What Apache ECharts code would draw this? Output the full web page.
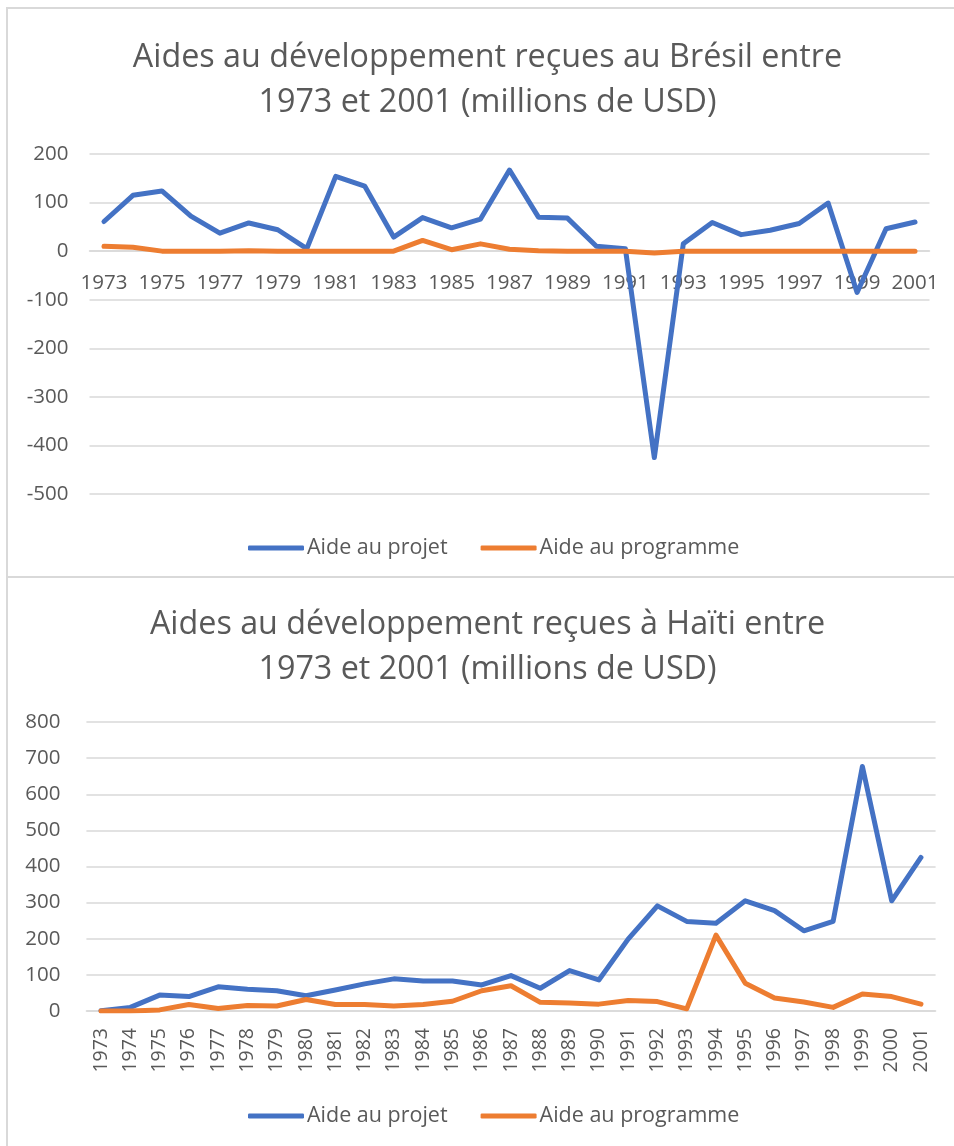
<!DOCTYPE html>
<html>
<head>
    <meta charset="utf-8">
    <title>Aides au développement</title>
    <script src="https://cdn.jsdelivr.net/npm/echarts@6/dist/echarts.min.js"></script>
    <style>
        body { margin: 0; background: #fff; }
    </style>
</head>
<body>
    <div id="main" style="width:954px;height:1146px;"></div>
    <script type="text/javascript">
var years = ['1973','1974','1975','1976','1977','1978','1979','1980','1981','1982','1983','1984','1985','1986','1987',
             '1988','1989','1990','1991','1992','1993','1994','1995','1996','1997','1998','1999','2000','2001'];

// Brésil
var bresilProjet = [61,115,124,72,37,58,44,5,154,134,29,69,48,66,167,70,68,10,5,-425,15,59,34,43,57,99,-85,46,60];
var bresilProgramme = [10,8,0,0,0,1,0,0,0,0,0,22,3,15,4,1,0,0,0,-4,0,0,0,0,0,0,0,0,0];

// Haïti
var haitiProjet = [1,10,44,40,67,60,56,42,58,75,89,83,83,72,98,63,112,86,199,291,248,243,305,278,222,248,677,305,425];
var haitiProgramme = [0,0,3,18,7,15,14,32,18,18,14,18,27,56,70,24,22,19,29,26,6,210,77,36,25,10,47,40,19];

var txt = '#595959';
var grille = '#d9d9d9';
var police = 'Open Sans';

function serie(nom, data, couleur, idx) {
    return {
        name: nom,
        type: 'line',
        xAxisIndex: idx,
        yAxisIndex: idx,
        data: data,
        symbol: 'none',
        lineStyle: { width: 5, color: couleur, cap: 'round', join: 'round' },
        itemStyle: { color: couleur }
    };
}

function titre(texte, haut) {
    return {
        text: texte,
        left: 482.5,
        top: haut,
        textAlign: 'center',
        textStyle: { fontFamily: police, fontSize: 32.3, fontWeight: 'normal', color: txt, lineHeight: 45 }
    };
}

function legende(haut) {
    return {
        top: haut,
        left: 243,
        icon: 'roundRect',
        itemWidth: 56,
        itemHeight: 5,
        itemGap: 33,
        data: ['Aide au projet', 'Aide au programme'],
        textStyle: { fontFamily: police, fontSize: 21.5, color: txt, padding: [0, 0, 0, -2] }
    };
}

var myChart = echarts.init(document.getElementById('main'));

option = {
    backgroundColor: '#fff',
    animation: false,
    graphic: [
        { type: 'rect', shape: { x: 7, y: 8, width: 1000, height: 569 }, style: { fill: 'none', stroke: grille, lineWidth: 2 } },
        { type: 'rect', shape: { x: 7, y: 577, width: 1000, height: 600 }, style: { fill: 'none', stroke: grille, lineWidth: 2 } }
    ],
    title: [
        titre('Aides au développement reçues au Brésil entre\n1973 et 2001 (millions de USD)', 30),
        titre('Aides au développement reçues à Haïti entre\n1973 et 2001 (millions de USD)', 597)
    ],
    legend: [legende(532), legende(1100)],
    grid: [
        { left: 89.5, width: 840, top: 154, height: 340 },
        { left: 86.4, width: 849.2, top: 722, height: 289 }
    ],
    xAxis: [
        {
            type: 'category', gridIndex: 0, data: years, boundaryGap: true,
            position: 'bottom', offset: -242.9,
            axisTick: { show: false },
            axisLine: { onZero: false, lineStyle: { color: grille, width: 1.5 } },
            axisLabel: { interval: 1, margin: 22, fontFamily: police, fontSize: 20.5, color: txt }
        },
        {
            type: 'category', gridIndex: 1, data: years, boundaryGap: true,
            axisTick: { show: false },
            axisLine: { onZero: true, lineStyle: { color: grille, width: 1.5 } },
            axisLabel: { interval: 0, rotate: 90, margin: 17, fontFamily: police, fontSize: 19.5, color: txt }
        }
    ],
    yAxis: [
        {
            type: 'value', gridIndex: 0, min: -500, max: 200, interval: 100,
            axisLine: { show: false }, axisTick: { show: false },
            splitLine: { lineStyle: { color: grille, width: 1.5 } },
            axisLabel: { margin: 21, fontFamily: police, fontSize: 20.5, color: txt }
        },
        {
            type: 'value', gridIndex: 1, min: 0, max: 800, interval: 100,
            axisLine: { show: false }, axisTick: { show: false },
            splitLine: { lineStyle: { color: grille, width: 1.5 } },
            axisLabel: { margin: 26, fontFamily: police, fontSize: 20.5, color: txt }
        }
    ],
    series: [
        serie('Aide au projet', bresilProjet, '#4472c4', 0),
        serie('Aide au programme', bresilProgramme, '#ed7d31', 0),
        serie('Aide au projet', haitiProjet, '#4472c4', 1),
        serie('Aide au programme', haitiProgramme, '#ed7d31', 1)
    ]
};

myChart.setOption(option);
    </script>
</body>
</html>
